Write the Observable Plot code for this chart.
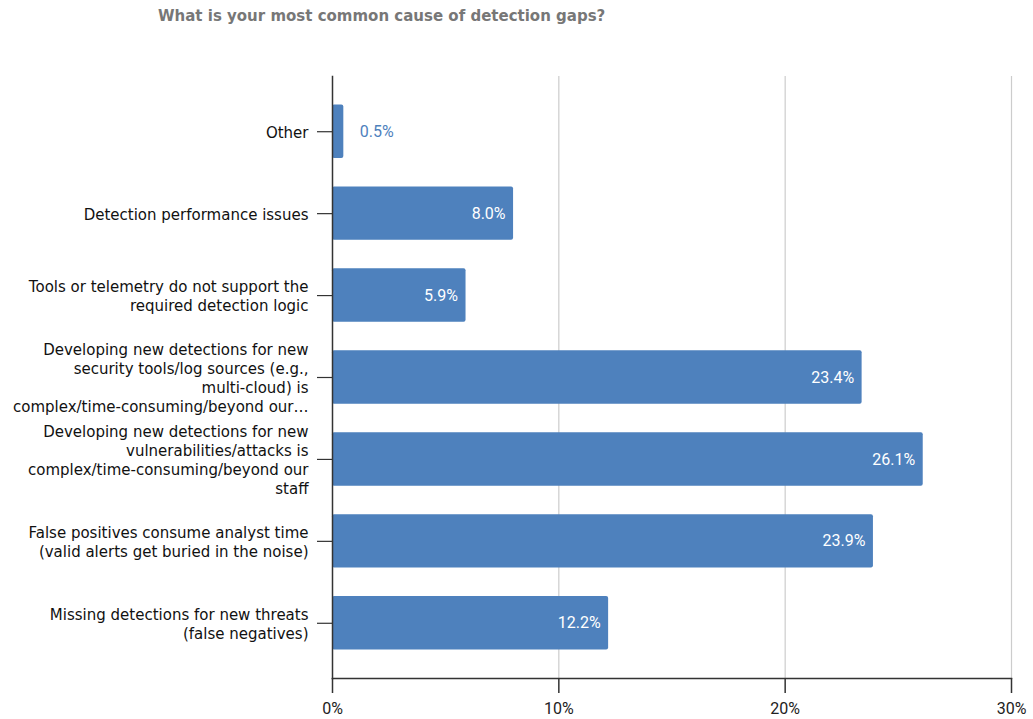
<!DOCTYPE html>
<html><head><meta charset="utf-8">
<script src="https://cdn.jsdelivr.net/npm/d3@7"></script>
<script src="https://cdn.jsdelivr.net/npm/@observablehq/plot@0.6"></script>
<style>
body{margin:0;background:#fff;}
#wrap{position:relative;width:1033px;height:719px;}
#title{position:absolute;left:158px;top:7px;font:bold 15px "DejaVu Sans";color:#777;white-space:nowrap;}
#wrap svg{position:absolute;left:0;top:0;}
</style></head><body>
<div id="wrap"><div id="title">What is your most common cause of detection gaps?</div></div>
<script>
const categories = [
  "Other",
  "Detection performance issues",
  "Tools or telemetry do not support the required detection logic",
  "Developing new detections for new security tools/log sources",
  "Developing new detections for new vulnerabilities/attacks",
  "False positives consume analyst time",
  "Missing detections for new threats"
];
const tickLabels = [
  "Other",
  "Detection performance issues",
  "Tools or telemetry do not support the\nrequired detection logic",
  "Developing new detections for new\nsecurity tools/log sources (e.g.,\nmulti-cloud) is\ncomplex/time-consuming/beyond our…",
  "Developing new detections for new\nvulnerabilities/attacks is\ncomplex/time-consuming/beyond our\nstaff",
  "False positives consume analyst time\n(valid alerts get buried in the noise)",
  "Missing detections for new threats\n(false negatives)"
];
const values = [0.5, 8.0, 5.9, 23.4, 26.1, 23.9, 12.2];
const xTicks = [0, 10, 20, 30];

const data = categories.map((c, i) => ({category: c, value: values[i], label: tickLabels[i]}));
const labelOf = new Map(data.map(d => [d.category, d.label]));
const blue = "#4e81bd";

const chart = Plot.plot({
  width: 1033, height: 719,
  marginLeft: 332, marginRight: 22, marginTop: 76, marginBottom: 41,
  style: {background: "transparent", overflow: "visible"},
  x: {domain: [0, 30]},
  y: {domain: categories, padding: 0.348, round: false},
  marks: [
    Plot.gridX(xTicks.slice(1), {stroke: "#cccccc", strokeOpacity: 1, strokeWidth: 1.2}),
    Plot.barX(data, {x: "value", y: "category", fill: blue, rx: 2}),
    Plot.text(data.filter(d => d.value >= 2), {
      x: "value", y: "category", text: d => d.value.toFixed(1) + "%",
      textAnchor: "end", dx: -8, fill: "white", fontSize: 16, fontFamily: "Roboto"
    }),
    Plot.text(data.filter(d => d.value < 2), {
      x: "value", y: "category", text: d => d.value.toFixed(1) + "%",
      textAnchor: "start", dx: 16, fill: blue, fontSize: 16, fontFamily: "Roboto"
    }),
    Plot.frame({anchor: "bottom", stroke: "#333", strokeWidth: 1.5}),
    Plot.frame({anchor: "left", stroke: "#333", strokeWidth: 1.5}),
    Plot.axisX(xTicks, {
      tickSize: 15, tickPadding: 9, stroke: "#333", strokeWidth: 1.5,
      tickFormat: d => d + "%", fontSize: 16, fontFamily: "Roboto", fill: "#222", label: null
    }),
    Plot.axisY({
      tickSize: 15, tickPadding: 9, stroke: "#333", strokeWidth: 1.2,
      tickFormat: d => labelOf.get(d), fontSize: 15, fontFamily: "DejaVu Sans",
      fill: "#111", lineHeight: 1.25, label: null, lineWidth: Infinity
    })
  ]
});
document.getElementById("wrap").appendChild(chart);
</script>
</body></html>
